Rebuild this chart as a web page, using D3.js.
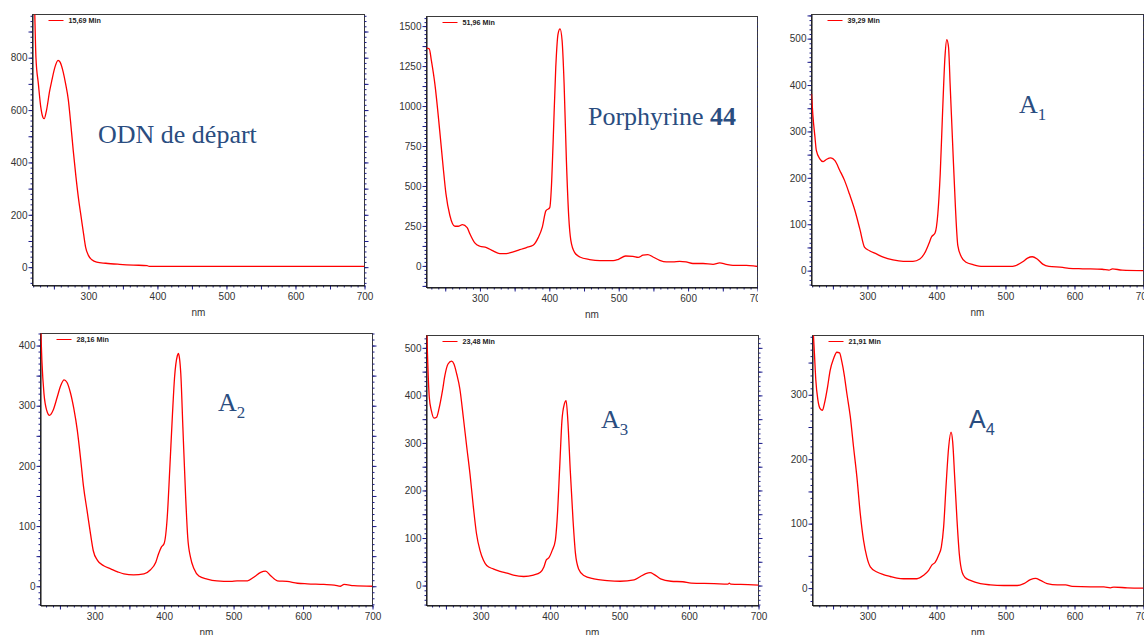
<!DOCTYPE html>
<html><head><meta charset="utf-8">
<script src="https://cdn.jsdelivr.net/npm/d3@7"></script>
<style>body{margin:0;background:#fff}svg{display:block}</style>
</head><body>
<svg id="c" width="1144" height="635"></svg>
<script>
// ---------- DATA ----------
const legendLabels = ["15,69 Min", "51,96 Min", "39,29 Min", "28,16 Min", "23,48 Min", "21,91 Min"];
const xTickLabels = [300, 400, 500, 600, 700];
const xAxisTitle = "nm";

const odnNm  = [219,222,224,227.5,231,234,236,239,244,247,251.5,256,259,263.5,267,271,274,278,282,286,289.5,293,296,300,305,312,325,345,365,385,388,450,550,700];
const odnAbs = [1300,1000,800,700,611,573,567,595,675,713,764,790,783,745,700,637,560,446,344,255,191,127,76,45,28,19,15,11,8,6,3,3,3,3];
const odnYTicks = [0,200,400,600,800];

const porNm  = [223,227,230,235,242,247,251,256.6,264,268.6,274.8,281.6,285.4,292.6,300,309.4,319,328.6,338,348,357.4,367,376.6,384,390,395,400.6,403,405.4,409.3,412.6,415.5,418.4,421.3,424.6,428,431,436.6,444,458,473,492,499,510,520.6,528,535,542,549.4,559,568.6,578,588,597,607,621.5,636,645.5,655,664.7,684,698,700];
const porAbs = [1362,1358,1285,1140,848,619,452,317,248,248,258,240,202,144,123,115,94,77,77,88,102,115,129,177,244,344,365,494,765,1244,1452,1483,1410,1140,660,306,160,83,56,40,33,33,40,62,60,54,67,71,56,35,25,25,29,25,15,15,10,19,10,4,4,-2,-3];
const porYTicks = [0,250,500,750,1000,1250,1500];

const a1Nm  = [219,221,224,226,231,236,241,247,253,260,267,274,282,289,296,303,313,323,337,352,366,376,383,389,393,398,402,405.5,409,412.5,415,417.5,420,423.5,427.5,431,436,443,453,467,486,506,515,525,532,539,546,554,563,583,592,612,640,650,655,669,700];
const a1Abs = [381,335,288,259,241,235,240,243,237,216,194,165,129,90,50,43,36,29,23,20,20,25,38,58,73,81,122,209,345,464,498,482,396,273,137,54,30,18,13,9,9,9,11,19,27,30,25,14,9,7,5,4,3,1,4,1,0];
const a1YTicks = [0,100,200,300,400,500];

const a2Nm  = [222,224,227,231,235,240,246,251,256,260,265,270,275,280,284,289,294,298,304,313,323,333,342,356,371,380,388,392,396,400,404.5,408,412,415,419,420.5,422,424,427,431,434,438,443,450,462,476,496,505,520,529,539,546,553,563,577,592,606,630,645,654,659,673,700];
const a2Abs = [440,375,320,292,284,292,314,333,343,339,322,295,259,209,165,126,87,59,43,34,29,24,20.5,19,20.5,27,40,54,65,71,115,192,286,347,383,387,380,353,264,148,81,48,29,17,12,9,8,9,9,15,23,25,18,9,8,5,4,3,2,0,3,1,0];
const a2YTicks = [0,100,200,300,400];

const a3Nm  = [222,223.4,226,229,233,236.5,240,245,248.5,253,258,261.5,265.5,270,275,280,284.6,289.5,294,299,304,308.7,318,328,338,347,362,376,386,391,394.5,398,403,407.5,410,414,417,420.5,423,425.5,429,433,436.5,441,448.5,463,482,501,521,530,537.7,544,550,559,574,591,603,636,656,658,660,685,700];
const a3Abs = [560,487,396,368,352,354,372,410,442,466,472,466,445,414,354,291,235,165,109,74,53,42,35,30,26,22,19,22,28,39,54,58,74,95,137,256,347,382,389,347,242,137,67,35,21,14,10.5,9,12,19,25,27,23,14,9,8,5,4,3,5,3,2,1];
const a3YTicks = [0,100,200,300,400,500];

const a4Nm  = [220.2,223,225,228,231,234.7,237.6,242,245.8,250.7,255.5,259.4,262.8,266.2,270,275,279.7,284.5,289.4,294.2,299,304,313.6,323,333,342.6,352,371.6,381,388.6,393.4,398,403,407,410.3,413.7,417.6,421,423.4,426.3,429.7,433,437,441.8,449,463.6,478,497.5,517,526.5,536,543.5,550.7,560.4,575,587,596.7,623,642.6,652,657,676.5,700];
const a4Abs = [420,364,323,292,279,276,287,312,338,356,366,365,351,331,302,266,219,173,116,74,48,33,25,21,18,15.5,14.5,14.5,19.7,27.5,36,40,51,64,95,157,219,242,227,172,105,53,25,16,12,7,5,4,4,7,13,15,12,7,5,5,2.6,2,2,0.5,1.5,0.5,0];
const a4YTicks = [0,100,200,300];

// axis ranges
const xStarts  = [219, 223, 219, 222, 222, 220.2];
const yRanges  = [[-70,965],[-135,1560],[-32,552],[-32,420],[-42,526],[-27,392]];

// ---------- LAYOUT ----------
const frames = [
  {l:32.5, r:364.5, t:14.5, b:285.5},
  {l:426.5, r:757.5, t:16.5, b:287.5, crop:758},
  {l:811.5, r:1143.5, t:14.5, b:285.5},
  {l:40.5, r:372.5, t:333.5, b:605.5},
  {l:426.5, r:758.5, t:335.5, b:605.5},
  {l:812.5, r:1143.5, t:335.5, b:605.5}
];
const series = [
  {nm:odnNm, abs:odnAbs, yt:odnYTicks},
  {nm:porNm, abs:porAbs, yt:porYTicks},
  {nm:a1Nm, abs:a1Abs, yt:a1YTicks},
  {nm:a2Nm, abs:a2Abs, yt:a2YTicks},
  {nm:a3Nm, abs:a3Abs, yt:a3YTicks},
  {nm:a4Nm, abs:a4Abs, yt:a4YTicks}
];
const annColor = "#2a4d80";
const serif = "'Liberation Serif','Times New Roman',serif";
const sans = "'Liberation Sans',Arial,sans-serif";
const annotations = [
  {x:98, y:143, font:serif, parts:[{t:"ODN de départ"}]},
  {x:588, y:125, font:serif, parts:[{t:"Porphyrine "},{t:"44", bold:true}]},
  {x:1019, y:113, font:serif, parts:[{t:"A"},{t:"1", sub:true}]},
  {x:218, y:411, font:serif, parts:[{t:"A"},{t:"2", sub:true}]},
  {x:601, y:428, font:serif, parts:[{t:"A"},{t:"3", sub:true}]},
  {x:969, y:428, font:sans, size:25, parts:[{t:"A"},{t:"4", sub:true}]}
];

const svg = d3.select("#c");
const defs = svg.append("defs");
const tickColor = "#1c1c8c";

function stepTicks(dom, step) {
  const s = Math.ceil((dom[0] - 1e-9) / step) * step;
  return d3.range(s, dom[1] + 1e-9, step).map(v => +v.toFixed(6));
}

series.forEach((s, i) => {
  const f = frames[i];
  const x = d3.scaleLinear().domain([xStarts[i], 700]).range([f.l, f.r]);
  const y = d3.scaleLinear().domain(yRanges[i]).range([f.b, f.t]);
  const g = svg.append("g");
  if (f.crop) {
    defs.append("clipPath").attr("id", "crop" + i).append("rect")
      .attr("x", 0).attr("y", 0).attr("width", f.crop).attr("height", 635);
    g.attr("clip-path", "url(#crop" + i + ")");
  }
  defs.append("clipPath").attr("id", "clip" + i).append("rect")
    .attr("x", f.l).attr("y", f.t).attr("width", f.r - f.l).attr("height", f.b - f.t);

  // frame
  g.append("rect").attr("x", f.l).attr("y", f.t).attr("width", f.r - f.l).attr("height", f.b - f.t)
    .attr("fill", "none").attr("stroke", "#3a3a3a").attr("stroke-width", 1);

  const yStep = s.yt[1] - s.yt[0];
  const yDom = yRanges[i];
  const xDom = [xStarts[i], 700];

  function drawTicks(axisFn, scale, vals, size, tx, ty) {
    const a = g.append("g").attr("transform", `translate(${tx},${ty})`)
      .call(axisFn(scale).tickValues(vals).tickSize(size).tickFormat(""));
    a.select(".domain").remove();
    a.selectAll("line").attr("stroke", tickColor).attr("stroke-width", 1);
  }
  // y ticks left and right
  drawTicks(d3.axisLeft, y, stepTicks(yDom, yStep / 10), 2, f.l, 0);
  drawTicks(d3.axisLeft, y, stepTicks(yDom, yStep / 2), 4, f.l, 0);
  drawTicks(d3.axisRight, y, stepTicks(yDom, yStep / 10), 2, f.r, 0);
  drawTicks(d3.axisRight, y, stepTicks(yDom, yStep / 2), 4, f.r, 0);
  // x ticks
  drawTicks(d3.axisBottom, x, stepTicks(xDom, 10), 2, 0, f.b);
  drawTicks(d3.axisBottom, x, stepTicks(xDom, 50), 4, 0, f.b);

  // labels
  const yl = g.append("g").attr("transform", `translate(${f.l},0)`)
    .call(d3.axisLeft(y).tickValues(s.yt).tickSize(0).tickPadding(5).tickFormat(d3.format("d")));
  yl.select(".domain").attr("stroke", "#111");
  yl.selectAll("text").attr("fill", "#333").style("font", `10px ${sans}`);
  const xl = g.append("g").attr("transform", `translate(0,${f.b})`)
    .call(d3.axisBottom(x).tickValues(xTickLabels).tickSize(0).tickPadding(7).tickFormat(d3.format("d")));
  xl.select(".domain").attr("stroke", "#111");
  xl.selectAll("text").attr("fill", "#333").style("font", `10px ${sans}`);
  g.append("text").attr("x", (f.l + f.r) / 2).attr("y", f.b + 30)
    .attr("text-anchor", "middle").attr("fill", "#333").style("font", `10px ${sans}`).text(xAxisTitle);

  // legend
  g.append("line").attr("x1", f.l + 16).attr("x2", f.l + 31).attr("y1", f.t + 6).attr("y2", f.t + 6)
    .attr("stroke", "#ff0000").attr("stroke-width", 1);
  g.append("text").attr("x", f.l + 36).attr("y", f.t + 8.5).attr("fill", "#222")
    .style("font", `bold 7.2px ${sans}`).text(legendLabels[i]);

  // curve
  const pts = s.nm.map((n, k) => [n, s.abs[k]]);
  g.append("path").datum(pts).attr("clip-path", "url(#clip" + i + ")")
    .attr("fill", "none").attr("stroke", "#ff0000").attr("stroke-width", 1.3)
    .attr("stroke-linejoin", "round")
    .attr("d", d3.line().x(d => x(d[0])).y(d => y(d[1])).curve(d3.curveMonotoneX));

  // annotation
  const a = annotations[i];
  const size = a.size || 26;
  const t = svg.append("text").attr("x", a.x).attr("y", a.y).attr("fill", annColor)
    .style("font-family", a.font).style("font-size", size + "px");
  a.parts.forEach(p => {
    const sp = t.append("tspan").text(p.t);
    if (p.bold) sp.style("font-weight", "bold");
    if (p.sub) sp.attr("dy", 6.5).style("font-size", (size * 0.65) + "px");
  });
});
</script>
</body></html>
